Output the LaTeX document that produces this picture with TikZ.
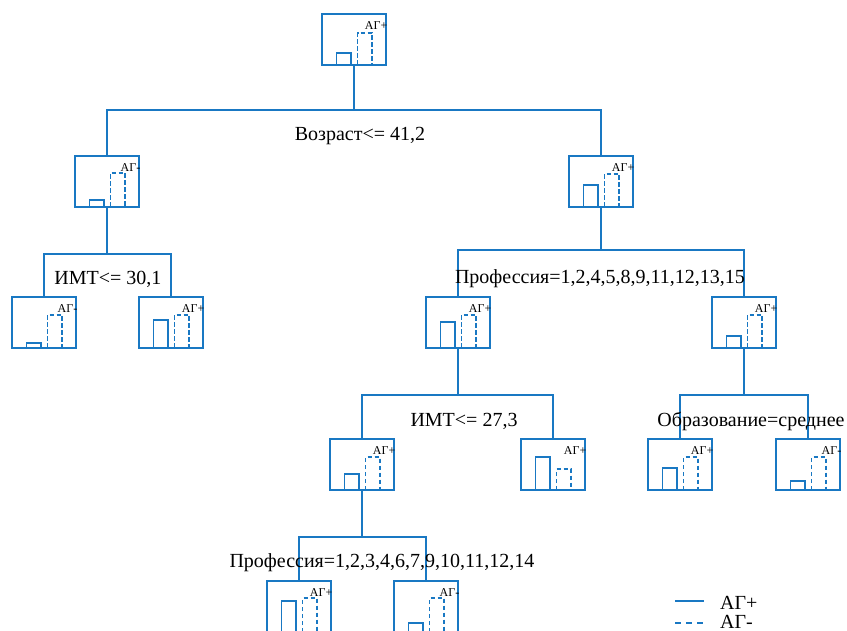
\documentclass[tikz,border=0pt]{standalone}
\usepackage{fontspec}
\setmainfont{Liberation Serif}
\usetikzlibrary{calc}
\definecolor{treeblue}{RGB}{25,120,195}
\tikzset{
	hbox/.style={draw=treeblue, line width=1.3pt, minimum width=64pt, minimum height=51pt, inner sep=0pt, outer sep=0pt},
	link/.style={draw=treeblue, line width=1.2pt},
	solidbar/.style={draw=treeblue, line width=1.2pt},
	dashbar/.style={draw=treeblue, line width=1.2pt, dash pattern=on 4.5pt off 2.5pt},
	rule/.style={font=\fontsize{20}{23}\selectfont, inner sep=0pt},
	tag/.style={font=\fontsize{12}{13}\selectfont, inner sep=0pt, anchor=north east}
}
% #1 node, #2 solid bar, #3 dashed bar, #4 class
\newcommand{\hist}[4]{%
	\draw[solidbar] ([xshift=14.5pt]#1.south west) -- ++(0,-#2) -- ++(14.5,0) -- ++(0,#2);
	\draw[dashbar] ([xshift=35.5pt]#1.south west) -- ++(0,-#3) -- ++(14.5,0) -- ++(0,#3);
	\node[tag] (#1-tag) at ([xshift=1.5pt,yshift=-7pt]#1.north east) {#4};
}
\begin{document}
\begin{tikzpicture}[x=1pt,y=-1pt]
	\useasboundingbox (0,0) rectangle (847,631);
	% boxes
	\node[hbox] (all) at (354,39.5) {};
	\node[hbox] (young) at (107,181.5) {};
	\node[hbox] (old) at (601,181.5) {};
	\node[hbox] (ylow) at (44,322.5) {};
	\node[hbox] (yhigh) at (171,322.5) {};
	\node[hbox] (jobA) at (458,322.5) {};
	\node[hbox] (jobB) at (744,322.5) {};
	\node[hbox] (bmiLo) at (362,464.5) {};
	\node[hbox] (bmiHi) at (553,464.5) {};
	\node[hbox] (eduMid) at (680,464.5) {};
	\node[hbox] (eduOth) at (808,464.5) {};
	\node[hbox] (jobA1) at (299,606.5) {};
	\node[hbox] (jobA2) at (426,606.5) {};
	\hist{all}{12}{32}{АГ+}
	\hist{young}{7}{34}{АГ-}
	\hist{old}{22}{33}{АГ+}
	\hist{ylow}{5}{33}{АГ-}
	\hist{yhigh}{28}{33}{АГ+}
	\hist{jobA}{26}{33}{АГ+}
	\hist{jobB}{12}{33}{АГ+}
	\hist{bmiLo}{16}{33}{АГ+}
	\hist{bmiHi}{33}{21}{АГ+}
	\hist{eduMid}{22}{33}{АГ+}
	\hist{eduOth}{9}{33}{АГ-}
	\hist{jobA1}{31}{34}{АГ+}
	\hist{jobA2}{9}{34}{АГ-}
	% splits
	\coordinate (s0) at (354,110);
	\coordinate (s1) at (107,254);
	\coordinate (s2) at (601,250);
	\coordinate (s3) at (458,395);
	\coordinate (s4) at (744,395);
	\coordinate (s5) at (362,537);
	\draw[link] (all.south) -- (s0);
	\draw[link] (young.north) |- (s0) -| (old.north);
	\draw[link] (young.south) -- (s1);
	\draw[link] (ylow.north) |- (s1) -| (yhigh.north);
	\draw[link] (old.south) -- (s2);
	\draw[link] (jobA.north) |- (s2) -| (jobB.north);
	\draw[link] (jobA.south) -- (s3);
	\draw[link] (bmiLo.north) |- (s3) -| (bmiHi.north);
	\draw[link] (jobB.south) -- (s4);
	\draw[link] (eduMid.north) |- (s4) -| (eduOth.north);
	\draw[link] (bmiLo.south) -- (s5);
	\draw[link] (jobA1.north) |- (s5) -| (jobA2.north);
	% rules
	\node[rule] (r0) at (360,136) {Возраст<= 41,2};
	\node[rule] (r1) at (108,279) {ИМТ<= 30,1};
	\node[rule] (r2) at (600,279) {Профессия=1,2,4,5,8,9,11,12,13,15};
	\node[rule] (r3) at (464,421) {ИМТ<= 27,3};
	\node[rule] (r4) at (751,421) {Образование=среднее};
	\node[rule] (r5) at (382,563) {Профессия=1,2,3,4,6,7,9,10,11,12,14};
	% legend
	\coordinate (kp1) at (675,601);
	\coordinate (kp2) at (704,601);
	\coordinate (km1) at (675,623);
	\coordinate (km2) at (704,623);
	\draw[link] (kp1) -- (kp2);
	\draw[link, dash pattern=on 6pt off 5pt] (km1) -- (km2);
	\node[rule, anchor=west] (kpl) at (720,603) {АГ+};
	\node[rule, anchor=west] (kml) at (720,622) {АГ-};
\end{tikzpicture}
\end{document}
